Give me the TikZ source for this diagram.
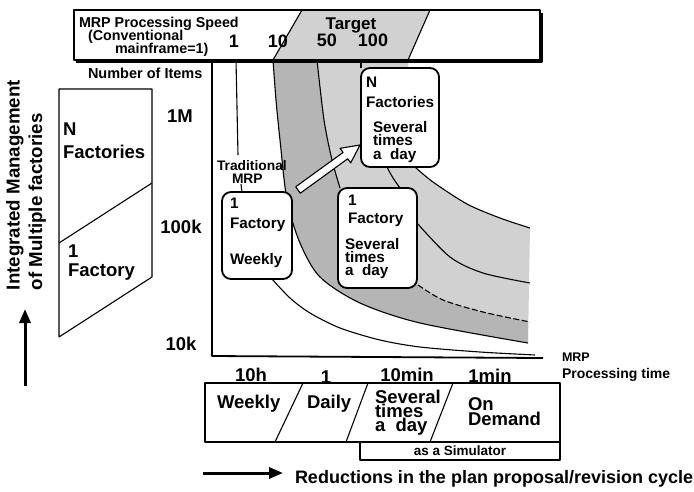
\documentclass[tikz,border=0pt]{standalone}
\usepackage{fontspec}
\setmainfont{Liberation Sans}
\usetikzlibrary{arrows.meta}
\tikzset{
  tf/.style={font=\bfseries\fontsize{#1}{#1}\selectfont},
  tfs/.style 2 args={font=\bfseries\fontsize{#1}{#2}\selectfont},
  txt/.style={inner sep=0pt, outer sep=0pt, anchor=north west, align=left},
  ctxt/.style={inner sep=0pt, outer sep=0pt, anchor=north},
  btxt/.style={inner sep=0pt, outer sep=0pt, anchor=base},
  rbox/.style={draw, line width=1.8pt, rounded corners=9pt, fill=white, inner sep=0pt, outer sep=0pt, anchor=north west},
  pbox/.style={draw, line width=1.1pt, fill=white, inner sep=0pt, outer sep=0pt, anchor=north west},
  curve/.style={line width=1.1pt},
  lightshade/.style={fill=black!18},
  darkshade/.style={fill=black!29},
  bigarrow/.style={line width=3pt, -{Triangle[length=14pt,width=11pt]}},
}
\begin{document}
\begin{tikzpicture}[x=1pt,y=-1pt,line join=round]
\useasboundingbox (0,0) rectangle (694,491);

% ---------- shaded target region ----------
\fill[lightshade] (302,10) -- (430,10) -- (408,60) -- (273,60) -- cycle;
\fill[lightshade] (273,60) -- (408,60) -- (415,167)
  -- plot[smooth] coordinates {(415,167) (433,182) (467,204) (500,218) (530,228)}
  -- (528,343)
  -- plot[smooth] coordinates {(528,343) (420,323) (360,303) (320,277) (300,243) (287,200) (280,140) (276,100) (273,60)}
  -- cycle;
\fill[darkshade] plot[smooth] coordinates {(317,60) (324,120) (332,160) (345,200) (370,245) (418,285) (443,300) (483,312) (528,322)}
  -- (528,343)
  -- plot[smooth] coordinates {(528,343) (420,323) (360,303) (320,277) (300,243) (287,200) (280,140) (276,100) (273,60)}
  -- cycle;

% ---------- top box ----------
\draw[line width=2.6pt] (542,13) -- (542,61.5) -- (76,61.5);
\node[draw, line width=1.1pt, inner sep=0pt, outer sep=0pt, anchor=north west,
      minimum width=466pt, minimum height=50pt] (topbox) at (74,10) {};
\draw[line width=1.1pt] (302,10) -- (273,60);
\draw[line width=1.1pt] (430,10) -- (408,60);
\node[txt, tf=14.3] (spd1) at (79,17) {MRP Processing Speed};
\node[txt, tf=14.3] (spd2) at (88,30) {(Conventional};
\node[txt, tf=14.3] (spd3) at (115,43) {mainframe=1)};
\node[ctxt, tf=17] (target) at (351,18) {Target};
\node[ctxt, tf=18] (s1) at (234,35) {1};
\node[ctxt, tf=18] (s10) at (278,35) {10};
\node[ctxt, tf=18] (s50) at (327,34) {50};
\node[ctxt, tf=18] (s100) at (373,34) {100};

% ---------- axes ----------
\coordinate (ytop) at (212,60);
\coordinate (orig) at (212,356);
\coordinate (xend) at (543,358);
\draw[line width=1.8pt] (ytop) -- (orig) -- (xend);

% ---------- curves ----------
% speed 1
\draw[curve] (236,60) -- (238,155);
\draw[curve] (241,184) -- (242,192);
\draw[curve] plot[smooth] coordinates {(272,279) (290,298) (310,313) (340,328) (380,340) (420,347) (480,352) (535,355)};
% speed 10
\draw[curve] plot[smooth] coordinates {(273,60) (276,100) (280,140) (287,200) (300,243) (320,277) (360,303) (420,323) (528,343)};
% speed 50
\draw[curve] plot[smooth] coordinates {(317,60) (324,120) (332,160) (340,188)};
\draw[curve, dash pattern=on 6pt off 2.5pt] plot[smooth] coordinates {(418,285) (443,300) (483,312) (530,322)};
% speed 100
\draw[curve] (361,60) -- (361,68);
\draw[curve] (387,167) to[bend right=5] (400,188);
\draw[curve] plot[smooth] coordinates {(417,223) (450,257) (483,273) (530,283)};
% target boundary
\draw[curve] plot[smooth] coordinates {(415,167) (433,182) (467,204) (500,218) (530,228)};

% ---------- boxes in the plot ----------
\node[rbox, minimum width=78pt, minimum height=99pt] (nbox) at (361,68) {};
\node[txt, tfs={15.3}{20}] (nboxa) at (366,77) {N\\Factories};
\node[txt, tfs={15.3}{13.5}] (nboxb) at (373,121) {Several\\times\\a\ \ day};

\node[rbox, minimum width=79pt, minimum height=100pt] (fbox) at (338,188) {};
\node[txt, tfs={15.3}{18}] (fboxa) at (348,195) {1\\Factory};
\node[txt, tfs={15.3}{13.2}] (fboxb) at (345,238) {Several\\times\\a\ \ day};

\node[rbox, minimum width=70pt, minimum height=87pt] (wbox) at (222,192) {};
\node[txt, tfs={15.3}{19.5}] (wboxa) at (230,198) {1\\Factory};
\node[txt, tf=15.3] (wboxb) at (230,253) {Weekly};

\node[txt, tfs={13.8}{13}] (trad) at (217,160) {Traditional\\\hspace*{15pt}MRP};

% hollow arrow
\draw[line width=1.1pt, fill=white] (295.7,186.8) -- (343.1,152.4) -- (340.1,148.3) -- (360,145)
  -- (350.7,162.9) -- (347.7,158.8) -- (300.3,193.2) -- cycle;

% ---------- y axis labels ----------
\node[txt, tf=14.5] (items) at (88,68) {Number of Items};
\node[ctxt, tf=18.5] (y1m) at (180,110) {1M};
\node[ctxt, tf=18.5] (y100k) at (181,220) {100k};
\node[ctxt, tf=18.5] (y10k) at (181,337) {10k};

% ---------- left parallelogram ----------
\draw[line width=1.1pt] (59,89) -- (152,89) -- (152,277) -- (59,337) -- cycle;
\draw[line width=1.1pt] (59,243) -- (152,183);
\node[txt, tfs={18.5}{23}] (lnf) at (63,123) {N\\Factories};
\node[txt, tfs={18.5}{18.5}] (l1f) at (68,245) {1\\Factory};

% vertical title
\node[txt, tf=18.7, rotate=90] (vt1) at (6,290) {Integrated Management};
\node[txt, tf=18.7, rotate=90] (vt2) at (28.5,290) {of Multiple factories};
\coordinate (ua0) at (25,386);
\coordinate (ua1) at (25,309);
\draw[bigarrow] (ua0) -- (ua1);

% ---------- x axis labels ----------
\node[txt, tf=12.5] (xlab1) at (562,353) {MRP};
\node[txt, tf=14] (xlab2) at (562,368) {Processing time};
\node[btxt, tf=18.5] (t10h) at (251,381) {10h};
\node[btxt, tf=18.5] (t1h) at (326,383) {1};
\node[btxt, tf=18.5] (t10m) at (407,381) {10min};
\node[btxt, tf=18.5] (t1m) at (490,382) {1min};

% ---------- bottom cycle box ----------
\node[pbox, minimum width=355pt, minimum height=59pt] (cyc) at (205,383) {};
\draw[line width=1.1pt] (303,383) -- (275,442);
\draw[line width=1.1pt] (368,383) -- (346,442);
\draw[line width=1.1pt] (453,383) -- (430,442);
\node[txt, tf=18.5] (cweek) at (217,395) {Weekly};
\node[txt, tf=18.5] (cday) at (307,395) {Daily};
\node[txt, tfs={18.5}{13.8}] (csev) at (375,390) {Several\\times\\a\ \ day};
\node[txt, tfs={18.5}{15}] (cdem) at (468,398) {On\\Demand};
\node[pbox, minimum width=200pt, minimum height=18pt, tf=13.5] (sim) at (360,442) {as a Simulator};

% ---------- bottom arrow ----------
\coordinate (ra0) at (203,473);
\coordinate (ra1) at (283,473);
\draw[bigarrow] (ra0) -- (ra1);
\node[txt, tf=18] (red) at (295,470) {Reductions in the plan proposal/revision cycle};
\end{tikzpicture}
\end{document}
